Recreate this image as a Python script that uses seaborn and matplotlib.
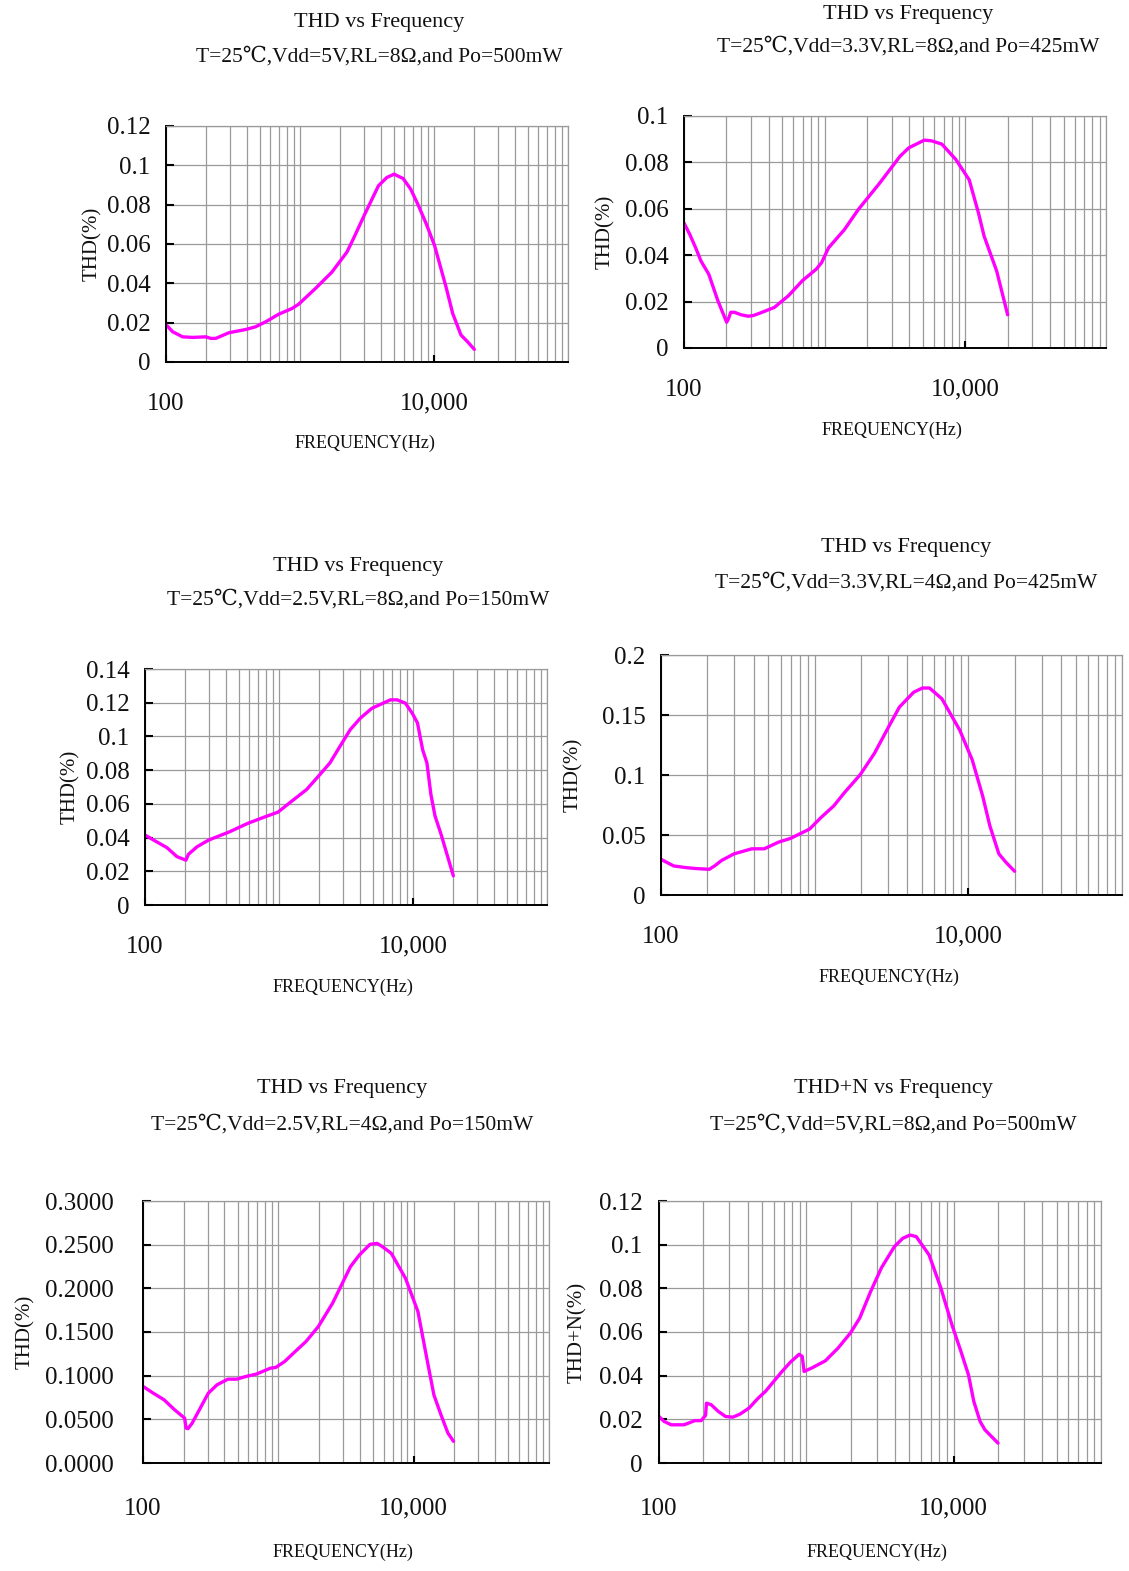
import numpy as np
import pandas as pd
import seaborn as sns
import matplotlib.pyplot as plt
from matplotlib.ticker import FixedLocator, NullFormatter

# Data
# ===================================================
freq_1 = [100, 112, 133, 158, 198, 216, 235, 295, 392, 466, 553, 694, 871, 978, 1300, 1730,
          2240, 2500, 3050, 3850, 4440, 5040, 5880, 6700, 7600, 8760, 10100, 12300, 13800,
          15900, 17800, 20000]
thd_1 = [0.0190, 0.0154, 0.0128, 0.0125, 0.0128, 0.0120, 0.0120, 0.0149, 0.0165, 0.0179,
         0.0204, 0.0243, 0.0272, 0.0294, 0.0373, 0.0457, 0.0559, 0.0626, 0.0753, 0.0896,
         0.0938, 0.0955, 0.0933, 0.0879, 0.0800, 0.0702, 0.0592, 0.0381, 0.0246, 0.0137,
         0.0103, 0.0064]

freq_2 = [100, 110, 121, 132, 150, 174, 188, 201, 207, 215, 228, 255, 286, 311, 349, 439, 552,
          694, 872, 951, 1066, 1380, 1730, 2440, 3440, 3970, 5110, 5740, 6800, 8550, 10650,
          12400, 13600, 16700, 20000]
thd_2 = [0.0539, 0.0489, 0.0432, 0.0375, 0.0318, 0.0204, 0.0154, 0.0111, 0.0126, 0.0154,
         0.0154, 0.0143, 0.0137, 0.0140, 0.0151, 0.0175, 0.0225, 0.0290, 0.0340, 0.0368,
         0.0432, 0.0510, 0.0596, 0.0708, 0.0827, 0.0863, 0.0896, 0.0893, 0.0879, 0.0813,
         0.0725, 0.0582, 0.0482, 0.0332, 0.0143]

freq_3 = [100, 119, 146, 173, 202, 211, 245, 300, 424, 583, 780, 983, 1200, 1607, 2020, 2400,
          2850, 3400, 4040, 4940, 6780, 7600, 8780, 9860, 10800, 11800, 12700, 13600, 14600,
          16200, 20000]
thd_3 = [0.0415, 0.0380, 0.0340, 0.0287, 0.0266, 0.0301, 0.0346, 0.0386, 0.0433, 0.0484,
         0.0522, 0.0551, 0.0606, 0.0685, 0.0774, 0.0843, 0.0941, 0.1040, 0.1108, 0.1167,
         0.1217, 0.1217, 0.1197, 0.1138, 0.1080, 0.0921, 0.0843, 0.0656, 0.0528, 0.0419,
         0.0173]

freq_4 = [100, 121, 146, 171, 206, 223, 248, 299, 390, 470, 581, 700, 928, 1100, 1330, 1560,
          1980, 2450, 2950, 3560, 4410, 5030, 5590, 6730, 8790, 10600, 12400, 13800, 15800,
          17500, 20000]
thd_4 = [0.0297, 0.0242, 0.0228, 0.0220, 0.0214, 0.0242, 0.0288, 0.0343, 0.0385, 0.0385,
         0.0440, 0.0473, 0.0550, 0.0646, 0.0742, 0.0852, 0.1003, 0.1181, 0.1374, 0.1566,
         0.1690, 0.1725, 0.1725, 0.1635, 0.1374, 0.1126, 0.0824, 0.0577, 0.0343, 0.0275,
         0.0198]

freq_5 = [100, 119, 143, 171, 203, 208, 215, 231, 261, 304, 353, 424, 493, 573, 688, 875, 957,
          1113, 1333, 1598, 1975, 2515, 2930, 3410, 3970, 4760, 5370, 5880, 6840, 8700, 10750,
          12500, 14100, 15900, 17900, 19700]
thd_5 = [0.0877, 0.0800, 0.0724, 0.0610, 0.0514, 0.0400, 0.0393, 0.0457, 0.0610, 0.0800,
         0.0896, 0.0960, 0.0960, 0.0990, 0.1018, 0.1086, 0.1094, 0.1162, 0.1277, 0.1390,
         0.1562, 0.1829, 0.2039, 0.2248, 0.2382, 0.2504, 0.2515, 0.2477, 0.2400, 0.2115,
         0.1734, 0.1200, 0.0781, 0.0553, 0.0343, 0.0248]

freq_6 = [100, 108, 121, 148, 175, 193, 207, 210, 226, 253, 283, 317, 355, 409, 471, 528, 683,
          780, 894, 938, 966, 1102, 1346, 1640, 1990, 2300, 2730, 3240, 3960, 4510, 5060, 5570,
          6810, 8200, 9730, 11200, 12600, 13700, 15100, 16300, 20000]
thd_6 = [0.0213, 0.0191, 0.0175, 0.0175, 0.0194, 0.0194, 0.0218, 0.0274, 0.0267, 0.0236,
         0.0213, 0.0210, 0.0224, 0.0252, 0.0297, 0.0328, 0.0419, 0.0462, 0.0498, 0.0488,
         0.0419, 0.0437, 0.0468, 0.0526, 0.0595, 0.0663, 0.0785, 0.0895, 0.0991, 0.1029,
         0.1044, 0.1037, 0.0953, 0.0800, 0.0633, 0.0511, 0.0404, 0.0282, 0.0191, 0.0152,
         0.0091]

# Titles and axis labels
titles = ['THD vs Frequency', 'THD vs Frequency', 'THD vs Frequency',
          'THD vs Frequency', 'THD vs Frequency', 'THD+N vs Frequency']
conditions = ['T=25℃,Vdd=5V,RL=8Ω,and Po=500mW',
              'T=25℃,Vdd=3.3V,RL=8Ω,and Po=425mW',
              'T=25℃,Vdd=2.5V,RL=8Ω,and Po=150mW',
              'T=25℃,Vdd=3.3V,RL=4Ω,and Po=425mW',
              'T=25℃,Vdd=2.5V,RL=4Ω,and Po=150mW',
              'T=25℃,Vdd=5V,RL=8Ω,and Po=500mW']
ylabels = ['THD(%)', 'THD(%)', 'THD(%)', 'THD(%)', 'THD(%)', 'THD+N(%)']

# Y ticks
yticks_1 = [0, 0.02, 0.04, 0.06, 0.08, 0.10, 0.12]
ylabels_1 = ['0', '0.02', '0.04', '0.06', '0.08', '0.1', '0.12']
yticks_2 = [0, 0.02, 0.04, 0.06, 0.08, 0.10]
ylabels_2 = ['0', '0.02', '0.04', '0.06', '0.08', '0.1']
yticks_3 = [0, 0.02, 0.04, 0.06, 0.08, 0.10, 0.12, 0.14]
ylabels_3 = ['0', '0.02', '0.04', '0.06', '0.08', '0.1', '0.12', '0.14']
yticks_4 = [0, 0.05, 0.10, 0.15, 0.20]
ylabels_4 = ['0', '0.05', '0.1', '0.15', '0.2']
yticks_5 = [0, 0.05, 0.10, 0.15, 0.20, 0.25, 0.30]
ylabels_5 = ['0.0000', '0.0500', '0.1000', '0.1500', '0.2000', '0.2500', '0.3000']
yticks_6 = yticks_1
ylabels_6 = ylabels_1

xtick_values = [100, 10000]
xtick_labels = ['100', '10,000']

series = [(freq_1, thd_1, yticks_1, ylabels_1), (freq_2, thd_2, yticks_2, ylabels_2),
          (freq_3, thd_3, yticks_3, ylabels_3), (freq_4, thd_4, yticks_4, ylabels_4),
          (freq_5, thd_5, yticks_5, ylabels_5), (freq_6, thd_6, yticks_6, ylabels_6)]

# Layout in pixels: axes box (left, top, right, bottom), title centre x, title line y's,
# xlabel centre x / y, ylabel x, y tick pad, x tick pad
layout = [
    dict(box=(166, 126, 568, 362), tx=379, ty=(22, 57), lx=365, ly=443, yx=92, ypad=11, xpad=22),
    dict(box=(684, 116, 1106, 348), tx=908, ty=(15, 47), lx=892, ly=430, yx=605, ypad=11, xpad=22),
    dict(box=(145, 669, 547, 905), tx=358, ty=(567, 600), lx=343, ly=987, yx=70, ypad=11, xpad=22),
    dict(box=(661, 655, 1122, 895), tx=906, ty=(548, 583), lx=889, ly=977, yx=573, ypad=11, xpad=22),
    dict(box=(143, 1201, 549, 1463), tx=342, ty=(1088, 1125), lx=343, ly=1552, yx=25, ypad=21, xpad=25),
    dict(box=(659, 1201, 1101, 1463), tx=893, ty=(1088, 1125), lx=877, ly=1552, yx=577, ypad=12, xpad=25),
]

# Visualization
# ===================================================
sns.set_style('white')
plt.rcParams['font.family'] = ['Liberation Serif', 'DejaVu Serif', 'Noto Sans CJK SC']
text_color = '#111111'

W, H = 1129, 1571
fig = plt.figure(figsize=(W / 100, H / 100), dpi=100)

# Log grid positions
minor_grid = [k * 10 ** n for n in range(2, 5) for k in range(1, 10)] + [100000]
minor_grid = [v for v in minor_grid if v not in xtick_values]

for (fx, fy, yt, yl), lay, t1, t2, ylab in zip(series, layout, titles, conditions, ylabels):
    l, t, r, b = lay['box']
    ax = fig.add_axes([l / W, 1 - b / H, (r - l) / W, (b - t) / H])
    df = pd.DataFrame({'freq': fx, 'thd': fy})
    sns.lineplot(data=df, x='freq', y='thd', ax=ax, color='#FF00FF', linewidth=2.4,
                 estimator=None)
    ax.set_xscale('log')
    ax.set_xlim(100, 100000)
    ax.set_ylim(yt[0], yt[-1])

    ax.xaxis.set_major_locator(FixedLocator(xtick_values))
    ax.set_xticklabels(xtick_labels)
    ax.xaxis.set_minor_locator(FixedLocator(minor_grid))
    ax.xaxis.set_minor_formatter(NullFormatter())
    ax.yaxis.set_major_locator(FixedLocator(yt))
    ax.set_yticklabels(yl)

    ax.tick_params(axis='x', which='major', direction='in', length=5, width=1.5,
                   color='black', labelsize=18, pad=lay['xpad'], labelcolor=text_color)
    ax.tick_params(axis='x', which='minor', length=0)
    ax.tick_params(axis='y', which='major', direction='in', length=6, width=1.5,
                   color='black', labelsize=18, pad=lay['ypad'], labelcolor=text_color)
    ax.tick_params(left=True, bottom=True)

    ax.grid(True, which='both', axis='x', color='#9a9a9a', linewidth=0.9)
    ax.grid(True, which='major', axis='y', color='#9a9a9a', linewidth=0.9)
    ax.set_axisbelow(True)

    for side in ['top', 'right']:
        ax.spines[side].set_color('#9a9a9a')
        ax.spines[side].set_linewidth(0.9)
    for side in ['left', 'bottom']:
        ax.spines[side].set_color('black')
        ax.spines[side].set_linewidth(1.4)

    ax.set_xlabel('')
    ax.set_ylabel('')

    # Titles and labels
    fig.text(lay['tx'] / W, 1 - lay['ty'][0] / H, t1, fontsize=16, ha='center', va='center',
             color=text_color)
    fig.text(lay['tx'] / W, 1 - lay['ty'][1] / H, t2, fontsize=15.5, ha='center', va='center',
             color=text_color)
    fig.text(lay['lx'] / W, 1 - lay['ly'] / H, 'FREQUENCY(Hz)', fontsize=13, ha='center',
             va='center', color=text_color)
    fig.text(lay['yx'] / W, 1 - ((t + b) / 2) / H, ylab, fontsize=15, rotation=90,
             ha='center', va='center', color=text_color)

plt.savefig('out.png', dpi=100)
